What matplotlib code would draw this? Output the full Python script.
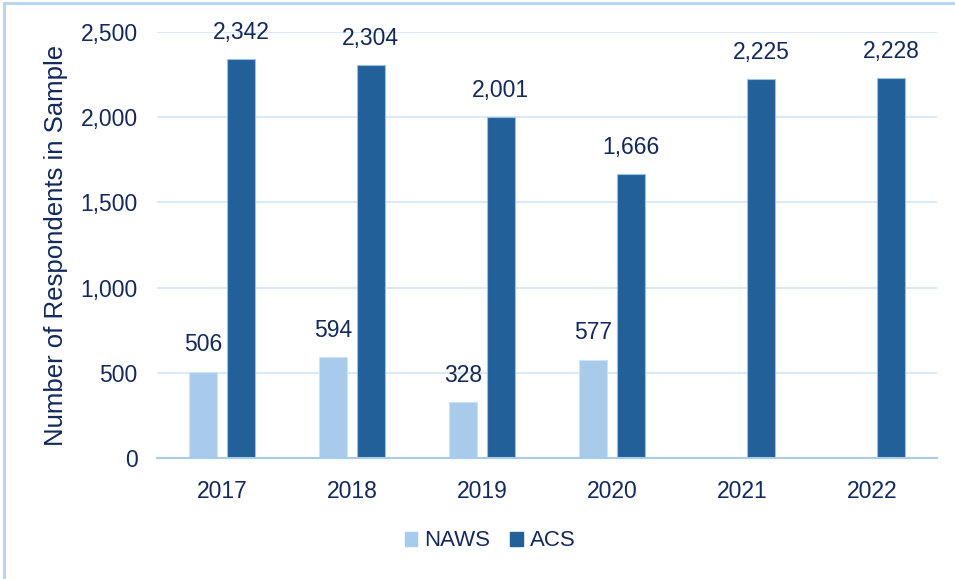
import numpy as np
import matplotlib.pyplot as plt
from matplotlib.lines import Line2D

# dados do gráfico
anos = ['2017', '2018', '2019', '2020', '2021', '2022']
naws = [506, 594, 328, 577, None, None]
acs = [2342, 2304, 2001, 1666, 2225, 2228]
yticks = [0, 500, 1000, 1500, 2000, 2500]

cor_texto = '#13295c'
cor_naws = '#a9cbeb'
cor_acs = '#22609a'
cor_grade = '#dbe8f6'

plt.rcParams['font.family'] = ['Liberation Sans', 'DejaVu Sans']

fig = plt.figure(figsize=(9.55, 5.79), dpi=100)
ax = fig.add_axes([157 / 955, 1 - 458 / 579, 780 / 955, 426 / 579])

x = np.arange(len(anos))
largura = 0.22
desloc = 0.145
fs = 16.5

for i, v in enumerate(naws):
    if v is None:
        continue
    ax.bar(x[i] - desloc, v, largura, color=cor_naws, edgecolor='#cfe2f5', linewidth=0.8, zorder=3)
    ax.annotate(f'{v:,}', (x[i] - desloc, v), xytext=(0, 11), textcoords='offset points',
                ha='center', va='bottom', fontsize=fs, color=cor_texto)

for i, v in enumerate(acs):
    ax.bar(x[i] + desloc, v, largura, color=cor_acs, edgecolor='#9cc0e3', linewidth=0.8, zorder=3)
    ax.annotate(f'{v:,}', (x[i] + desloc, v), xytext=(0, 11), textcoords='offset points',
                ha='center', va='bottom', fontsize=fs, color=cor_texto)

ax.set_xlim(-0.5, len(anos) - 0.5)
ax.set_ylim(0, 2500)
ax.set_yticks(yticks)
ax.set_yticklabels([f'{t:,}' for t in yticks])
ax.set_xticks(x)
ax.set_xticklabels(anos)
ax.tick_params(axis='y', length=0, pad=14, labelsize=fs, labelcolor=cor_texto)
ax.tick_params(axis='x', length=0, pad=16, labelsize=fs, labelcolor=cor_texto)
ax.grid(axis='y', color=cor_grade, linewidth=1.5, zorder=0)
for lado in ['top', 'right', 'left']:
    ax.spines[lado].set_visible(False)
ax.spines['bottom'].set_color(cor_naws)
ax.spines['bottom'].set_linewidth(1.5)
ax.spines['bottom'].set_zorder(4)

ax.set_ylabel('Number of Respondents in Sample', fontsize=18.5, color=cor_texto, labelpad=9)

# legenda
handles = [plt.Rectangle((0, 0), 1, 1, color=cor_naws), plt.Rectangle((0, 0), 1, 1, color=cor_acs)]
fig.legend(handles, ['NAWS', 'ACS'], loc='center', bbox_to_anchor=(490 / 955, 1 - 541 / 579),
           ncol=2, frameon=False, fontsize=16, labelcolor=cor_texto,
           handlelength=0.58, handleheight=0.58, handletextpad=0.3, columnspacing=0.9)

# borda da figura
fig.add_artist(Line2D([4 / 955, 1], [1 - 3 / 579, 1 - 3 / 579], color='#b7d3ef', linewidth=2))
fig.add_artist(Line2D([4 / 955, 4 / 955], [0, 1 - 3 / 579], color='#b7d3ef', linewidth=2))

fig.savefig('out.png', dpi=100)
